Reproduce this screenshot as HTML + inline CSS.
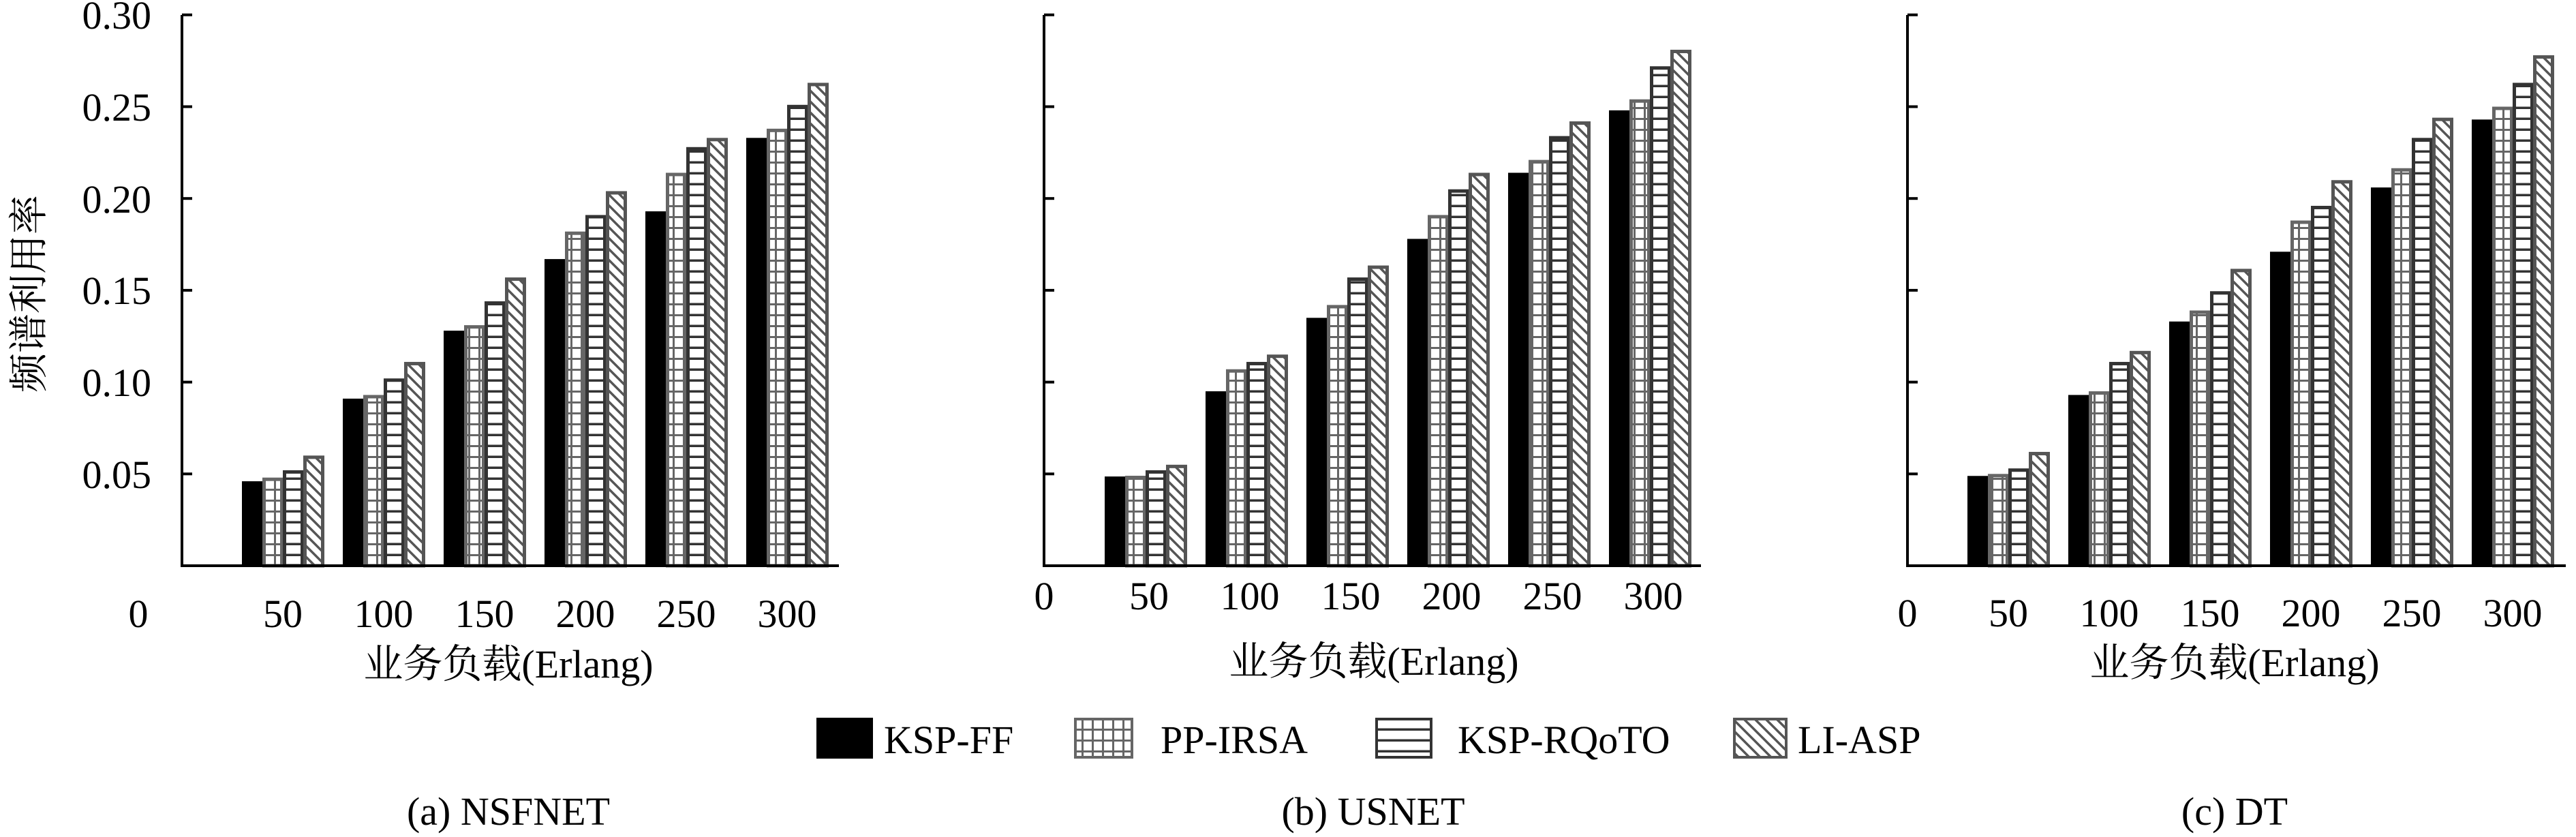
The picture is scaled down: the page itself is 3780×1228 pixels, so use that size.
<!DOCTYPE html>
<html><head><meta charset="utf-8"><style>
html,body{margin:0;padding:0;background:#fff;}
svg{display:block;}
svg text{font-family:"Liberation Serif","DejaVu Serif","Noto Serif CJK SC",serif !important;fill:#000;}
svg text.cjk{font-family:"Liberation Serif","Noto Serif CJK SC","DejaVu Serif",serif !important;}
</style></head><body>
<svg id="s" width="3780" height="1228" viewBox="0 0 3780 1228" xmlns="http://www.w3.org/2000/svg">
<defs>
<pattern id="grid" patternUnits="userSpaceOnUse" width="15" height="16">
<rect width="15" height="16" fill="#fff"/>
<rect x="0" y="13" width="15" height="3.5" fill="#666"/>
<rect x="12" y="0" width="3.5" height="16" fill="#666"/>
</pattern>
<pattern id="hor" patternUnits="userSpaceOnUse" width="30" height="16">
<rect width="30" height="16" fill="#fff"/>
<rect x="0" y="12.5" width="30" height="3.5" fill="#333"/>
</pattern>
<pattern id="diag" patternUnits="userSpaceOnUse" width="16" height="16">
<rect width="16" height="16" fill="#fff"/>
<path d="M-4,-4 L20,20 M-4,12 L4,20 M12,-4 L20,4" stroke="#555" stroke-width="3.5"/>
</pattern>
</defs>
<g id="bars"></g>
<g stroke="#000" stroke-width="4" fill="none">
<path d="M267,22 V830 H1231"/>
<path d="M1532,22 V830 H2496"/>
<path d="M2799,22 V830 H3765"/>
</g>
<g id="ticks" stroke="#000" stroke-width="4"></g>
<g font-size="58" text-anchor="end">
<text x="222" y="42">0.30</text>
<text x="222" y="177">0.25</text>
<text x="222" y="312">0.20</text>
<text x="222" y="446">0.15</text>
<text x="222" y="581">0.10</text>
<text x="222" y="716">0.05</text>
</g>
<text class="cjk" font-size="58" text-anchor="middle" transform="translate(62,431) rotate(-90)">频谱利用率</text>
<g font-size="58" text-anchor="middle">
<text x="203" y="920">0</text><text x="415" y="920">50</text><text x="563" y="920">100</text><text x="711" y="920">150</text><text x="859" y="920">200</text><text x="1007" y="920">250</text><text x="1155" y="920">300</text>
<text x="1532" y="894">0</text><text x="1686" y="894">50</text><text x="1834" y="894">100</text><text x="1982" y="894">150</text><text x="2130" y="894">200</text><text x="2278" y="894">250</text><text x="2426" y="894">300</text>
<text x="2799" y="919">0</text><text x="2947" y="919">50</text><text x="3095" y="919">100</text><text x="3243" y="919">150</text><text x="3391" y="919">200</text><text x="3539" y="919">250</text><text x="3687" y="919">300</text>
<text class="cjk" x="746" y="994">业务负载(Erlang)</text>
<text class="cjk" x="2016" y="990">业务负载(Erlang)</text>
<text class="cjk" x="3279" y="992">业务负载(Erlang)</text>
<text x="746" y="1210">(a) NSFNET</text>
<text x="2015" y="1210">(b) USNET</text>
<text x="3279" y="1210">(c) DT</text>
</g>
<rect x="1198" y="1053" width="83" height="60" fill="#000"/>
<text x="1297" y="1105" font-size="58">KSP-FF</text>
<rect x="1578" y="1055" width="83" height="56" fill="url(#grid)" stroke="#666" stroke-width="4"/>
<text x="1703" y="1105" font-size="58">PP-IRSA</text>
<rect x="2020" y="1055" width="80" height="56" fill="url(#hor)" stroke="#333" stroke-width="4"/>
<text x="2139" y="1105" font-size="58">KSP-RQoTO</text>
<rect x="2545" y="1055" width="76" height="56" fill="url(#diag)" stroke="#555" stroke-width="4"/>
<text x="2638" y="1105" font-size="58">LI-ASP</text>
</svg>
<script>
var data=[
 {x0:355,v:[[.046,.091,.128,.167,.193,.233],[.048,.093,.131,.182,.214,.238],[.052,.102,.144,.191,.228,.251],[.060,.111,.157,.204,.233,.263]]},
 {x0:1621,v:[[.0486,.095,.135,.178,.214,.248],[.049,.107,.142,.191,.221,.254],[.052,.111,.157,.205,.234,.272],[.055,.115,.1635,.214,.242,.281]]},
 {x0:2887,v:[[.0489,.093,.133,.171,.206,.243],[.050,.095,.139,.188,.2165,.250],[.053,.111,.1495,.196,.233,.263],[.062,.117,.1617,.210,.244,.278]]}
];
var ns="http://www.w3.org/2000/svg",g=document.getElementById('bars'),t=document.getElementById('ticks');
var fills=['#000','url(#grid)','url(#hor)','url(#diag)'],strokes=['none','#666','#333','#555'];
data.forEach(function(p){
 for(var i=0;i<6;i++)for(var s=0;s<4;s++){
  var v=p.v[s][i],h=v/0.05*134.7,x=p.x0+i*148+s*30,y=830-h;
  var r=document.createElementNS(ns,'rect');
  if(s==0){r.setAttribute('x',x);r.setAttribute('y',y);r.setAttribute('width',30);r.setAttribute('height',h);}
  else{r.setAttribute('x',x+2.5);r.setAttribute('y',y+2.5);r.setAttribute('width',26);r.setAttribute('height',h-2.5);r.setAttribute('stroke',strokes[s]);r.setAttribute('stroke-width',5);}
  r.setAttribute('fill',fills[s]);g.appendChild(r);
 }
});
[267,1532,2799].forEach(function(ax){
 for(var k=1;k<=6;k++){var y=830-k*134.7;var l=document.createElementNS(ns,'line');
 l.setAttribute('x1',ax);l.setAttribute('x2',ax+15);l.setAttribute('y1',y);l.setAttribute('y2',y);t.appendChild(l);}
});
</script>
</body></html>
